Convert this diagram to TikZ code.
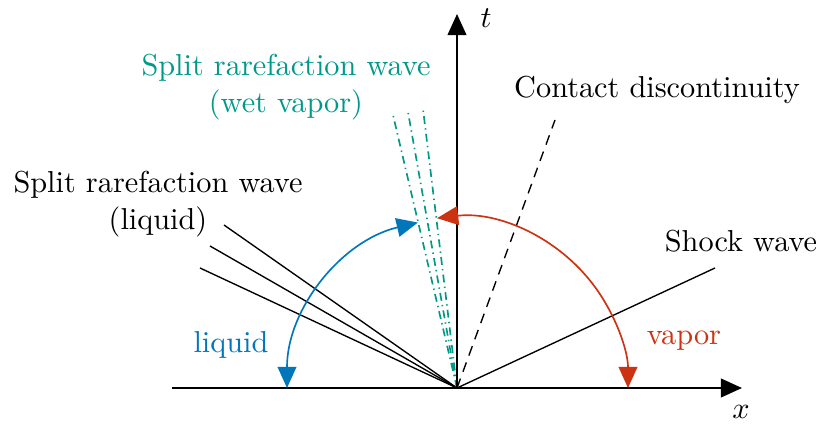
\documentclass[tikz,border=0pt]{standalone}
\usetikzlibrary{arrows.meta}
\definecolor{tolblue}{HTML}{0077BB}
\definecolor{tolred}{HTML}{CC3311}
\definecolor{tolteal}{HTML}{009988}
\begin{document}
\begin{tikzpicture}[x=0.33pt,y=0.33pt,
  axis/.style={line width=0.65pt,-{Triangle[length=7pt,width=6.2pt]}},
  wave/.style={line width=0.45pt},
  wetwave/.style={tolteal,line width=0.55pt,dash pattern=on 2.6pt off 1.4pt on 0.45pt off 1.4pt},
  contactline/.style={line width=0.45pt,dash pattern=on 3.3pt off 2.4pt},
  dualarrow/.style={line width=0.55pt,{Triangle[length=7pt,width=6.2pt]}-{Triangle[length=7pt,width=6.2pt]}},
  lbl/.style={inner sep=0pt,align=center}]
\useasboundingbox (0,0) rectangle (821,423);
\coordinate (O) at (457,35);
\coordinate (xs) at (172,35);
\coordinate (xe) at (742,35);
\coordinate (te) at (457,409);
\coordinate (ce) at (555,303);
\coordinate (se) at (715,155);
\coordinate (l1) at (224,198);
\coordinate (l2) at (210,177);
\coordinate (l3) at (200,155);
\coordinate (w1) at (393,308);
\coordinate (w2) at (408,311);
\coordinate (w3) at (423,314);
% waves
\draw[wave] (O) -- (l1);
\draw[wave] (O) -- (l2);
\draw[wave] (O) -- (l3);
\draw[wave] (O) -- (se);
\draw[contactline] (O) -- (ce);
\draw[wetwave] (O) -- (w1);
\draw[wetwave] (O) -- (w2);
\draw[wetwave] (O) -- (w3);
% axes
\draw[axis] (xs) -- (xe);
\draw[axis] (O) -- (te);
% arcs
\draw[dualarrow,tolblue] (O) ++(180:170) arc[start angle=180,end angle=103.3,radius=170];
\draw[dualarrow,tolred] (O) ++(96.7:171) arc[start angle=96.7,end angle=0,radius=171];
% labels
\node[lbl] (tl) at (486,405) {$t$};
\node[lbl] (xl) at (741,11) {$x$};
\node[lbl] (cl) at (657,333) {Contact discontinuity};
\node[lbl] (sl) at (741,182) {Shock wave};
\node[lbl] (ll) at (158,219) {Split rarefaction wave\\(liquid)};
\node[lbl,text=tolteal] (wl) at (286,336) {Split rarefaction wave\\(wet vapor)};
\node[lbl,text=tolblue] (liq) at (231,78) {liquid};
\node[lbl,text=tolred] (vap) at (684,82) {vapor};
\end{tikzpicture}
\end{document}
